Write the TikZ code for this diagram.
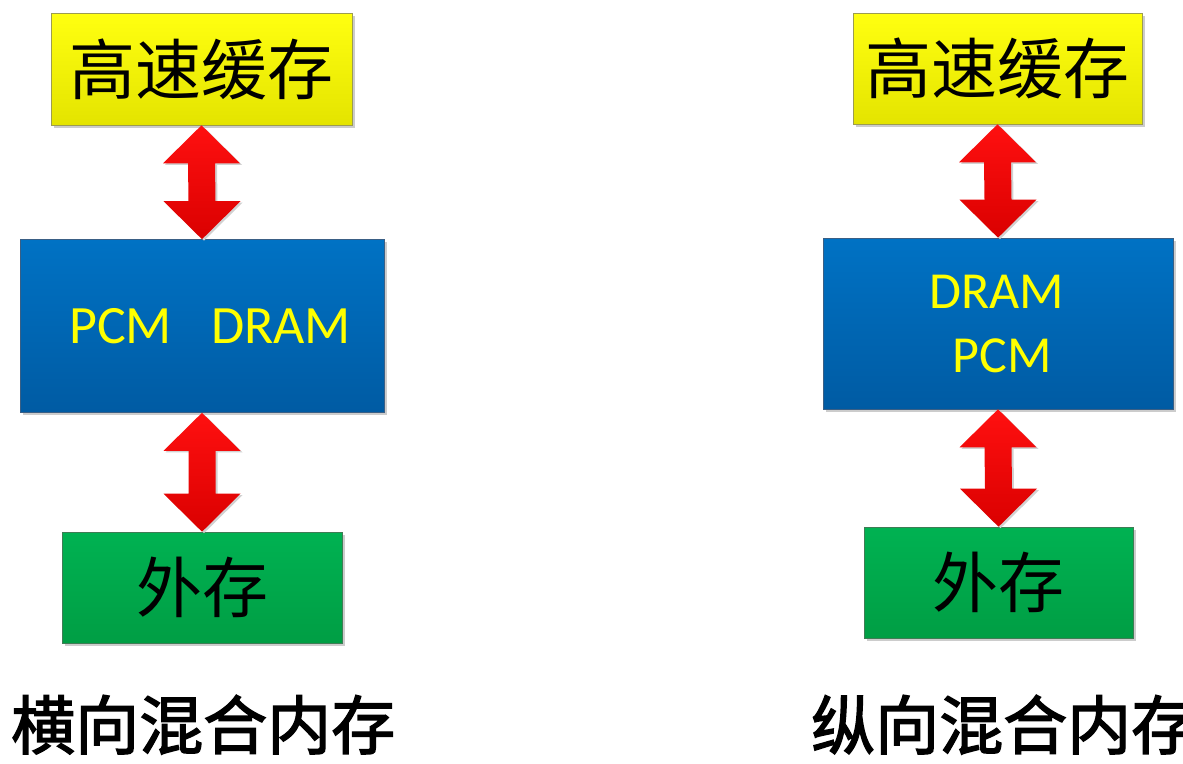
\documentclass[tikz,border=0pt]{standalone}
\usepackage{fontspec}
\setmainfont{Carlito}
\newfontfamily\cjk{Noto Sans CJK SC}
\newfontfamily\cjktitle{Noto Sans CJK SC}[FakeBold=2.2]
\usetikzlibrary{calc,shadows}
\definecolor{ytop}{HTML}{FFFF10}
\definecolor{ybot}{HTML}{E4E400}
\definecolor{yline}{HTML}{9C9C50}
\definecolor{btop}{HTML}{0072C4}
\definecolor{bbot}{HTML}{005BA3}
\definecolor{bline}{HTML}{3A5F85}
\definecolor{gtop}{HTML}{00B252}
\definecolor{gbot}{HTML}{009E44}
\definecolor{gline}{HTML}{3F7C55}
\definecolor{rtop}{HTML}{FF1010}
\definecolor{rbot}{HTML}{DA0000}
\definecolor{txty}{HTML}{FFFF00}
\tikzset{
  boxbase/.style={rectangle, inner sep=0pt, line width=0.6pt,
    drop shadow={shadow xshift=2.5pt, shadow yshift=-2.5pt, fill=black!20, opacity=1}},
  ybox/.style={boxbase, top color=ytop, bottom color=ybot, draw=yline},
  bbox/.style={boxbase, top color=btop, bottom color=bbot, draw=bline},
  gbox/.style={boxbase, top color=gtop, bottom color=gbot, draw=gline},
  cjktext/.style={font=\cjk\fontsize{66}{66}\selectfont, text=black},
  lattext/.style={font=\fontsize{52}{52}\selectfont, text=txty, inner sep=0pt},
  titletext/.style={font=\cjktitle\fontsize{64}{64}\selectfont, text=black, inner sep=0pt},
  redarrow/.style={top color=rtop, bottom color=rbot,
    drop shadow={shadow xshift=2pt, shadow yshift=-1.5pt, fill=black!18, opacity=1}}
}
\newcommand{\dblarr}[2]{%
  \shade[redarrow] (#1.south) -- ($(#1.south)+(38.5,38)$) -- ($(#1.south)+(13.5,38)$)
    -- ($(#2.north)+(13.5,-38)$) -- ($(#2.north)+(38.5,-38)$) -- (#2.north)
    -- ($(#2.north)+(-38.5,-38)$) -- ($(#2.north)+(-13.5,-38)$)
    -- ($(#1.south)+(-13.5,38)$) -- ($(#1.south)+(-38.5,38)$) -- cycle;}
\begin{document}
\begin{tikzpicture}[x=1pt,y=-1pt]
\useasboundingbox (0,0) rectangle (1183,763);
\clip (0,0) rectangle (1183,763);
\fill[white] (0,0) rectangle (1183,763);

% left column
\node[ybox, minimum width=301pt, minimum height=112pt, cjktext] (yL) at (201.5,69) {高速缓存};
\node[bbox, minimum width=364pt, minimum height=173pt] (bL) at (202,326) {};
\node[gbox, minimum width=280pt, minimum height=111pt, cjktext] (gL) at (202,587.5) {外存};
\node[lattext, font=\fontsize{54}{54}\selectfont, anchor=base west] (tL) at (69,343) {PCM\hspace{39pt}DRAM};
\dblarr{yL}{bL}
\dblarr{bL}{gL}
\node[titletext, anchor=base west] (hL) at (11,749) {横向混合内存};

% right column
\node[ybox, minimum width=289pt, minimum height=111pt, cjktext] (yR) at (997.5,68.5) {高速缓存};
\node[bbox, minimum width=350pt, minimum height=171pt] (bR) at (998,323.5) {};
\node[gbox, minimum width=269pt, minimum height=111pt, cjktext] (gR) at (998.5,582.5) {外存};
\node[lattext, anchor=base] (dR) at (996.5,308) {DRAM};
\node[lattext, anchor=base] (pR) at (1002,372) {PCM};
\dblarr{yR}{bR}
\dblarr{bR}{gR}
\node[titletext, anchor=base west] (hR) at (811,749) {纵向混合内存};
\end{tikzpicture}
\end{document}
